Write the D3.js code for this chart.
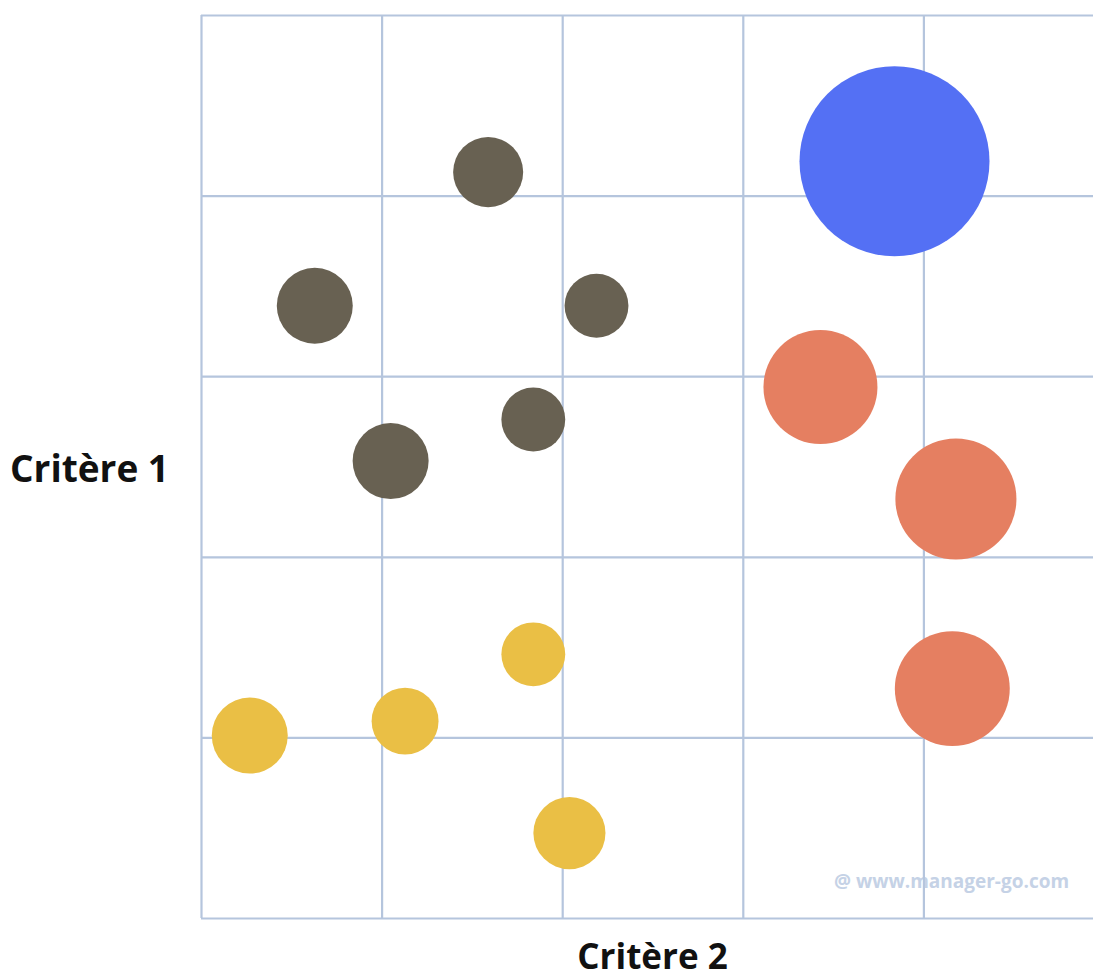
<!DOCTYPE html>
<html>
<head>
<meta charset="utf-8">
<script src="https://cdn.jsdelivr.net/npm/d3@7"></script>
<style>
	body { margin: 0; background: #fff; }
	svg { display: block; }
	.axis-title { font-family: 'Open Sans', sans-serif; font-weight: 700; fill: #111; }
	.watermark { font-family: 'Open Sans', sans-serif; font-weight: 700; fill: #c5d2e6; }
</style>
</head>
<body>
<div id="chart"></div>
<script>
// data: position on the 5x5 grid (critère 2 = x, critère 1 = y) and bubble size
const names = ['A', 'B1', 'B2', 'B3', 'B4', 'B5', 'O1', 'O2', 'O3', 'J1', 'J2', 'J3', 'J4'];
const groups = ['bleu', 'brun', 'brun', 'brun', 'brun', 'brun', 'orange', 'orange', 'orange', 'jaune', 'jaune', 'jaune', 'jaune'];
const critere2 = [3.84, 1.59, 0.63, 2.19, 1.84, 1.05, 3.43, 4.18, 4.16, 0.27, 1.13, 1.84, 2.04];
const critere1 = [4.19, 4.13, 3.39, 3.39, 2.76, 2.53, 2.94, 2.32, 1.27, 1.01, 1.09, 1.46, 0.47];
const sizes = [100, 13.6, 16, 11.3, 11.3, 16, 36, 40.6, 36.6, 16, 12.4, 11.3, 14.4];
const gridTicks = [0, 1, 2, 3, 4, 5];

const colours = {
	bleu: '#5470f4',
	brun: '#686152',
	orange: '#e57f61',
	jaune: '#eabf45'
};

const width = 1093;
const height = 980;
const margin = { top: 15, left: 201, bottom: 62 };
const cell = 180.6;

const data = names.map((n, i) => ({
	name: n,
	group: groups[i],
	x: critere2[i],
	y: critere1[i],
	size: sizes[i]
}));

const x = d3.scaleLinear()
	.domain([0, 5])
	.range([margin.left, margin.left + cell * 5]);

const y = d3.scaleLinear()
	.domain([0, 5])
	.range([height - margin.bottom, height - margin.bottom - cell * 5]);

const r = d3.scaleSqrt()
	.domain([0, 100])
	.range([0, 95]);

const svg = d3.select('#chart')
	.append('svg')
	.attr('width', width)
	.attr('height', height);

// watermark sits under the grid lines
svg.append('text')
	.attr('class', 'watermark')
	.attr('x', 834)
	.attr('y', 888)
	.attr('font-size', 19)
	.text('@ www.manager-go.com');

const grid = svg.append('g').attr('class', 'grid');

grid.append('g')
	.attr('transform', `translate(0, ${y(0)})`)
	.call(d3.axisBottom(x)
		.tickValues(gridTicks)
		.tickSize(-(y(0) - y(5)))
		.tickFormat('')
	)
	.call(g => g.select('.domain').remove());

grid.append('g')
	.attr('transform', `translate(${x(0)}, 0)`)
	.call(d3.axisLeft(y)
		.tickValues(gridTicks)
		.tickSize(-(x(5) - x(0)))
		.tickFormat('')
	)
	.call(g => g.select('.domain').remove());

grid.selectAll('line')
	.attr('stroke', '#b5c5dd')
	.attr('stroke-width', 2.2);

// bubbles
svg.append('g')
	.selectAll('circle')
	.data(data)
	.join('circle')
	.attr('cx', d => x(d.x))
	.attr('cy', d => y(d.y))
	.attr('r', d => r(d.size))
	.attr('fill', d => colours[d.group]);

// axis titles
svg.append('text')
	.attr('class', 'axis-title')
	.attr('x', 10)
	.attr('y', 482)
	.attr('font-size', 37)
	.text('Critère 1');

// kept a bit high so the glyph box stays inside the page
svg.append('text')
	.attr('class', 'axis-title')
	.attr('text-anchor', 'middle')
	.attr('x', (x(0) + x(5)) / 2)
	.attr('y', 969)
	.attr('font-size', 35)
	.text('Critère 2');
</script>
</body>
</html>
